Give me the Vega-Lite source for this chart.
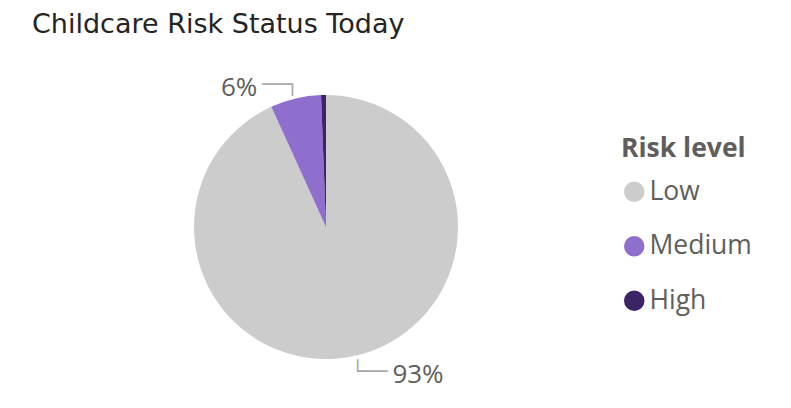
{
  "$schema": "https://vega.github.io/schema/vega-lite/v6.json",
  "width": 616,
  "height": 360,
  "padding": {"left": 18, "top": 11, "right": 0, "bottom": 2},
  "background": "white",
  "title": {
    "text": "Childcare Risk Status Today",
    "anchor": "start",
    "frame": "group",
    "dx": 14,
    "offset": 8,
    "font": "DejaVu Sans",
    "fontSize": 27,
    "fontWeight": "normal",
    "color": "#252423"
  },
  "config": {"view": {"stroke": null}},
  "data": {
    "values": [
      {"risk": "Low", "value": 0.932},
      {"risk": "Medium", "value": 0.062},
      {"risk": "High", "value": 0.006}
    ]
  },
  "encoding": {
    "theta": {"field": "value", "type": "quantitative", "stack": true},
    "order": {"field": "value", "type": "quantitative", "sort": "descending"}
  },
  "layer": [
    {
      "mark": {"type": "arc", "outerRadius": 132},
      "encoding": {
        "color": {
          "field": "risk",
          "type": "nominal",
          "scale": {"domain": ["Low", "Medium", "High"], "range": ["#CCCCCC", "#8F6FCD", "#3B2566"]},
          "legend": {
            "title": "Risk level",
            "orient": "none",
            "legendX": 603,
            "legendY": 89,
            "symbolType": "circle",
            "symbolSize": 420,
            "symbolStrokeWidth": 0,
            "titleFont": "Open Sans",
            "titleFontSize": 26.5,
            "titleFontWeight": "bold",
            "titleColor": "#605E5C",
            "titlePadding": 16,
            "labelFont": "Open Sans",
            "labelFontSize": 26.5,
            "labelColor": "#605E5C",
            "labelOffset": 2,
            "rowPadding": 27.5,
            "padding": 0
          }
        }
      }
    },
    {
      "mark": {"type": "text", "radius": 148, "align": "left", "baseline": "middle", "dx": 35, "dy": 3, "font": "Open Sans", "fontSize": 26, "color": "#605E5C"},
      "encoding": {
        "detail": {"field": "risk"},
        "text": {"condition": {"test": "datum.risk === 'Low'", "field": "value", "format": ".0%"}, "value": ""}
      }
    },
    {
      "mark": {"type": "text", "radius": 148, "align": "left", "baseline": "middle", "dx": -6, "dy": 0, "font": "DejaVu Sans Mono", "fontSize": 20, "color": "#A8A8A8"},
      "encoding": {
        "detail": {"field": "risk"},
        "text": {"condition": {"test": "datum.risk === 'Low'", "value": "└──"}, "value": ""}
      }
    },
    {
      "mark": {"type": "text", "radius": 146, "align": "right", "baseline": "middle", "dx": -35, "dy": 3, "font": "Open Sans", "fontSize": 26, "color": "#605E5C"},
      "encoding": {
        "detail": {"field": "risk"},
        "text": {"condition": {"test": "datum.risk === 'Medium'", "field": "value", "format": ".0%"}, "value": ""}
      }
    },
    {
      "mark": {"type": "text", "radius": 146, "align": "right", "baseline": "middle", "dx": 6, "dy": 0, "font": "DejaVu Sans Mono", "fontSize": 20, "color": "#A8A8A8"},
      "encoding": {
        "detail": {"field": "risk"},
        "text": {"condition": {"test": "datum.risk === 'Medium'", "value": "──┐"}, "value": ""}
      }
    }
  ]
}
